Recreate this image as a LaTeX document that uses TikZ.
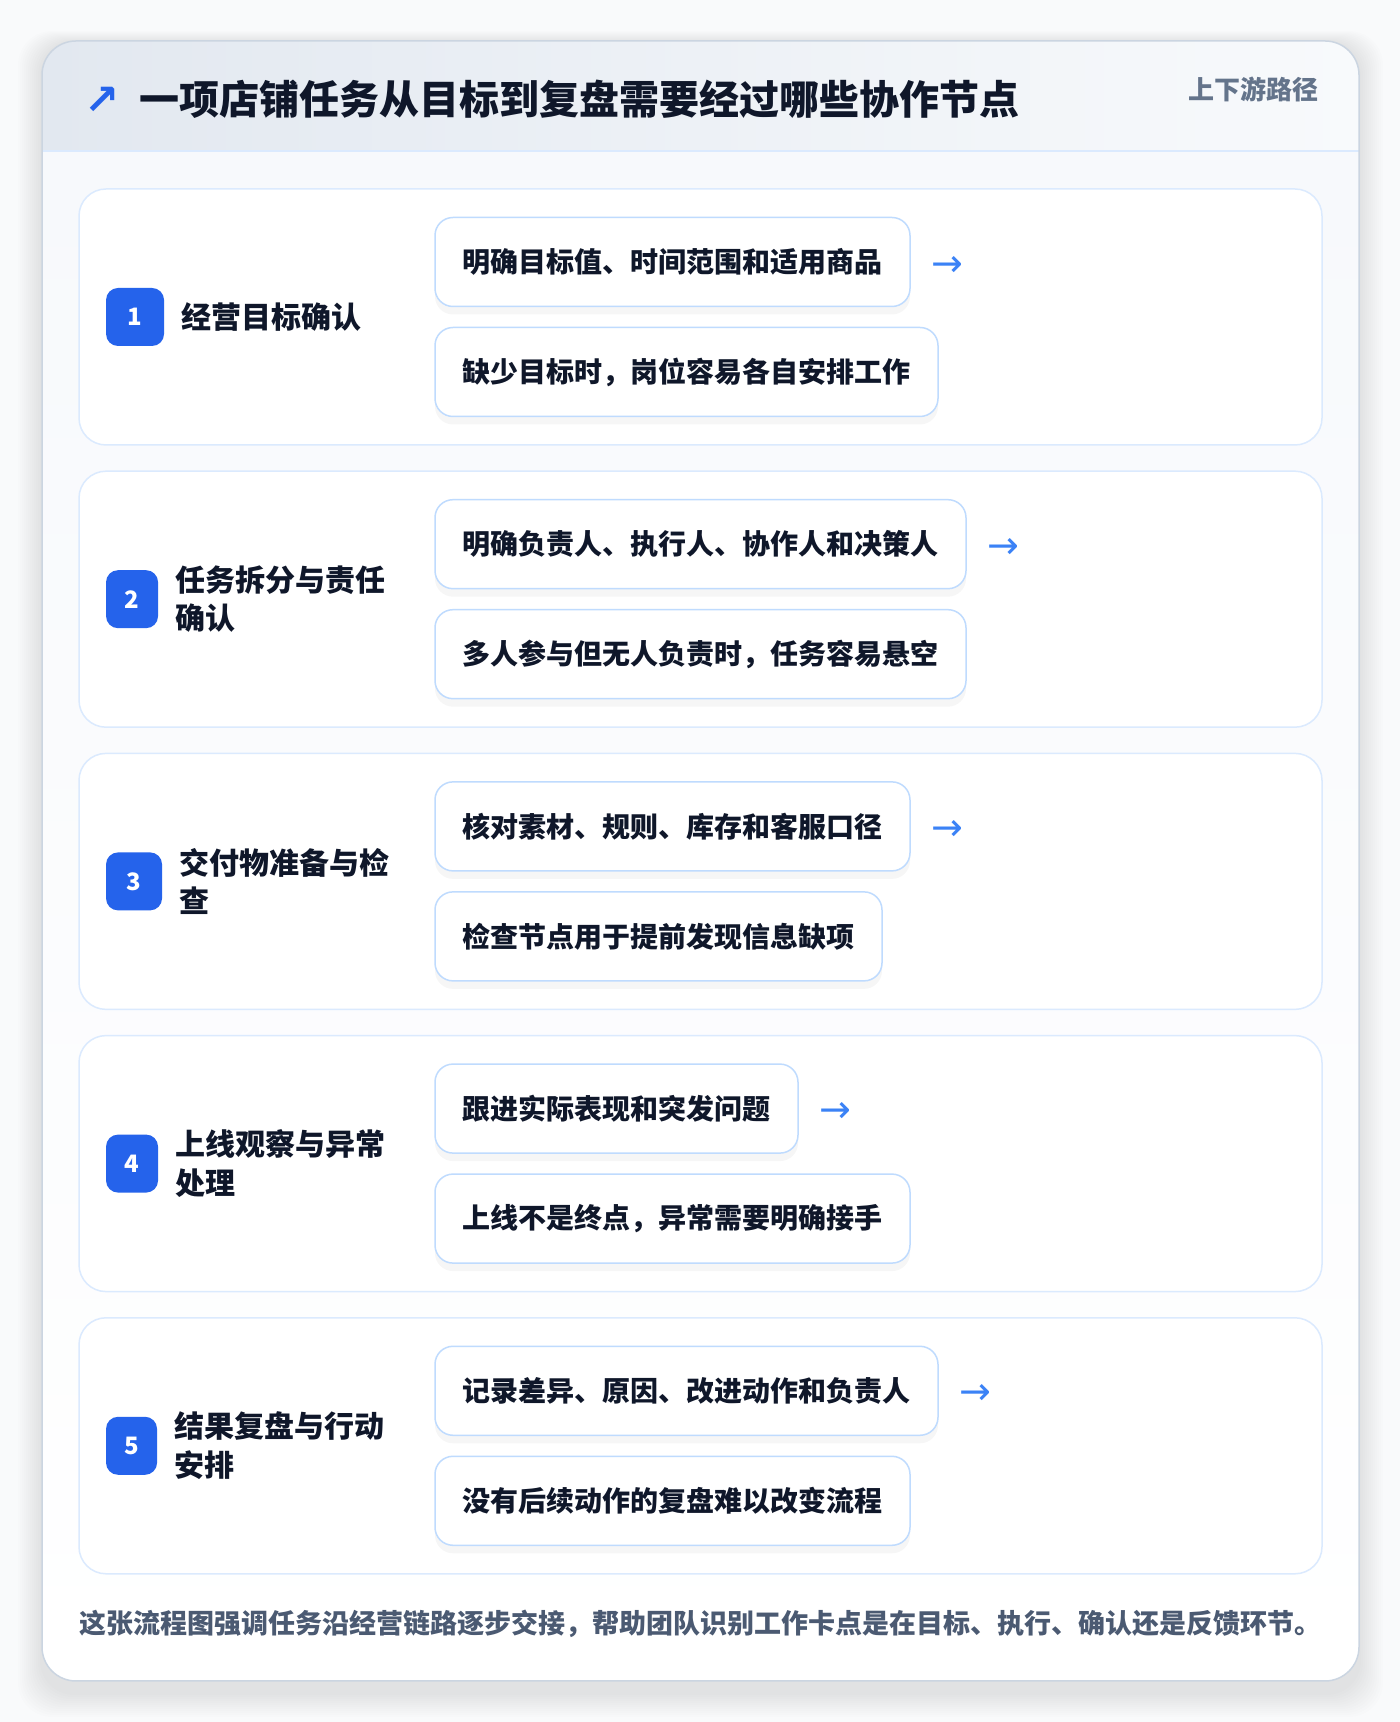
\documentclass[tikz,border=0pt]{standalone}
\usepackage{fontspec}
\setmainfont{Noto Sans CJK SC}[BoldFont={Noto Sans CJK SC Black}]
\newfontfamily\symfont{DejaVu Sans}
\usetikzlibrary{positioning}
\usetikzlibrary{shadows}

\definecolor{pagebg}{HTML}{F9FAFB}
\definecolor{ink}{HTML}{0F172A}
\definecolor{badgeblue}{HTML}{2563EB}
\definecolor{arrowblue}{HTML}{3B82F6}
\definecolor{cardline}{HTML}{DBEAFE}
\definecolor{boxline}{HTML}{BFDBFE}
\definecolor{frameline}{HTML}{CBD5E1}
\definecolor{headleft}{HTML}{E2E8F0}
\definecolor{headright}{HTML}{F8FAFC}
\definecolor{bodytop}{HTML}{F7F9FC}
\definecolor{mutedgray}{HTML}{64748B}
\definecolor{notegray}{HTML}{4B5A72}

\tikzset{
  stepcard/.style={draw=cardline, line width=1.5pt, fill=white, rounded corners=27pt,
    minimum width=1243pt, minimum height=256pt},
  badge/.style={fill=badgeblue, rounded corners=12pt, minimum height=58pt, inner sep=0pt,
    text=white, font=\fontsize{24}{24}\selectfont\bfseries},
  steplabel/.style={font=\fontsize{30}{38.5}\selectfont\bfseries, text=ink, align=left, inner sep=0pt},
  itembox/.style={draw=boxline, line width=1.5pt, fill=white, rounded corners=18pt,
    minimum height=89pt, inner xsep=27.5pt, inner ysep=0pt, anchor=west,
    font=\fontsize{28}{28}\selectfont\bfseries, text=ink,
    drop shadow={shadow xshift=0pt, shadow yshift=-8pt, opacity=0.035, fill=black}},
  nextmark/.style={text=arrowblue, font=\symfont\fontsize{38}{38}\selectfont, inner sep=0pt},
}

\begin{document}
\begin{tikzpicture}[x=1pt, y=1pt]
  \useasboundingbox (0,0) rectangle (1400,1722);
  \fill[pagebg] (0,0) rectangle (1400,1722);
  % soft shadow round the frame
  \foreach \k in {1,...,12}
    \fill[black, opacity=0.009, rounded corners=34pt]
      (42-2*\k,41-12-2*\k) rectangle (1359+2*\k,1681-2+\k);

  % frame with header band
  \begin{scope}
    \clip[rounded corners=34pt] (42,41) rectangle (1359,1681);
    \shade[top color=bodytop, bottom color=white] (42,41) rectangle (1359,1571.4);
    \shade[left color=headleft, right color=headright] (42,1571.4) rectangle (1359,1681);
  \end{scope}
  \draw[cardline, line width=2pt] (42,1571.4) -- (1359,1571.4);
  \draw[frameline, line width=1.5pt, rounded corners=34pt] (42,41) rectangle (1359,1681);

  \node[text=badgeblue, font=\symfont\bfseries\fontsize{42}{42}\selectfont, inner sep=0pt] (titlemark) at (102,1621) {↗};
  \node[anchor=west, text=ink, font=\fontsize{40}{40}\selectfont\bfseries, inner sep=0pt] (title) at (139.6,1623)
    {一项店铺任务从目标到复盘需要经过哪些协作节点};
  \node[anchor=east, text=mutedgray, font=\fontsize{26}{26}\selectfont\bfseries, inner sep=0pt] (tag) at (1319,1633)
    {上下游路径};

  % five steps
  \foreach \i/\bw/\lab/\ta/\tb in {
    1/58/{经营目标确认}/{明确目标值、时间范围和适用商品}/{缺少目标时，岗位容易各自安排工作},
    2/52/{任务拆分与责任\\确认}/{明确负责人、执行人、协作人和决策人}/{多人参与但无人负责时，任务容易悬空},
    3/56/{交付物准备与检\\查}/{核对素材、规则、库存和客服口径}/{检查节点用于提前发现信息缺项},
    4/52/{上线观察与异常\\处理}/{跟进实际表现和突发问题}/{上线不是终点，异常需要明确接手},
    5/51/{结果复盘与行动\\安排}/{记录差异、原因、改进动作和负责人}/{没有后续动作的复盘难以改变流程}} {
    \pgfmathsetmacro\cy{1405-282.2*(\i-1)}
    \node[stepcard] (card\i) at (700.5,\cy) {};
    \node[badge, minimum width=\bw pt, right=27.6pt of card\i.west] (badge\i) {\i};
    \node[steplabel, right=17pt of badge\i] (label\i) {\lab};
    \node[itembox] (top\i) at ([shift={(356,55)}]card\i.west) {\ta};
    \node[itembox] (bottom\i) at ([shift={(356,-55)}]card\i.west) {\tb};
    \node[nextmark, right=21pt of top\i, yshift=-4pt] (next\i) {→};
  }

  \node[anchor=west, text=notegray, font=\fontsize{27}{27}\selectfont\bfseries, inner sep=0pt] (note) at (79,98)
    {这张流程图强调任务沿经营链路逐步交接，帮助团队识别工作卡点是在目标、执行、确认还是反馈环节。};
\end{tikzpicture}
\end{document}
